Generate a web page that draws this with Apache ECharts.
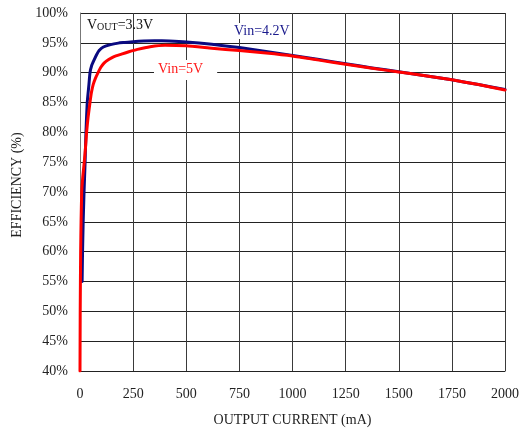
<!DOCTYPE html>
<html>
<head>
<meta charset="utf-8">
<script src="https://cdn.jsdelivr.net/npm/echarts@6/dist/echarts.min.js"></script>
<style>
  html, body { margin: 0; padding: 0; background: #fff; }
  #chart { width: 522px; height: 432px; }
</style>
</head>
<body>
<div id="chart"></div>
<script>
// Efficiency vs output current, VOUT = 3.3V
const xTicks = [0, 250, 500, 750, 1000, 1250, 1500, 1750, 2000];
const yTicks = [40, 45, 50, 55, 60, 65, 70, 75, 80, 85, 90, 95, 100];

// Vin = 4.2V
const vin42Current = [10, 12, 15, 19, 24, 28, 34, 42, 47, 55, 66, 78, 90, 110, 144, 180, 207, 250, 300, 350, 420, 500, 620, 750, 875, 1000, 1125, 1250, 1375, 1500, 1625, 1750, 1875, 2000];
const vin42Eff = [55, 60, 65, 70, 75, 80, 85, 88, 90, 91.2, 92.1, 93.0, 93.7, 94.3, 94.7, 94.95, 95.05, 95.2, 95.3, 95.35, 95.3, 95.15, 94.75, 94.2, 93.55, 92.9, 92.2, 91.5, 90.8, 90.15, 89.5, 88.8, 88.0, 87.2];

// Vin = 5V
const vin5Current = [0, 1, 3, 5, 8, 13, 20, 26, 31, 38, 47, 54, 62, 72, 85, 98, 113, 135, 160, 195, 230, 270, 330, 400, 500, 620, 750, 875, 1000, 1125, 1250, 1375, 1500, 1625, 1750, 1875, 2000];
const vin5Eff = [40, 50, 60, 65, 70, 72.5, 75, 77.5, 80, 82.5, 85, 86.7, 88, 89, 90, 90.9, 91.6, 92.2, 92.7, 93.1, 93.5, 93.9, 94.35, 94.6, 94.5, 94.1, 93.7, 93.3, 92.8, 92.1, 91.4, 90.75, 90.1, 89.5, 88.8, 88.0, 87.1];

const pairs = (xs, ys) => xs.map((x, i) => [x, ys[i]]);
const FONT = '"Liberation Serif", "DejaVu Serif", serif';

const chart = echarts.init(document.getElementById('chart'), null, { renderer: 'canvas' });
chart.setOption({
  animation: false,
  backgroundColor: '#fff',
  grid: { left: 80, top: 13, right: 16, bottom: 60, containLabel: false },
  xAxis: {
    type: 'value',
    min: xTicks[0], max: xTicks[xTicks.length - 1], interval: 250,
    name: 'OUTPUT CURRENT (mA)',
    nameLocation: 'middle', nameGap: 42,
    nameTextStyle: { fontFamily: FONT, fontSize: 14, color: '#222' },
    axisLine: { show: true, lineStyle: { color: '#222', width: 1 } },
    axisTick: { show: false },
    axisLabel: { fontFamily: FONT, fontSize: 14, color: '#222', margin: 16, formatter: v => String(v) },
    splitLine: { show: true, lineStyle: { color: '#3a3a3a', width: 1 } }
  },
  yAxis: {
    type: 'value',
    min: yTicks[0], max: yTicks[yTicks.length - 1], interval: 5,
    name: 'EFFICIENCY (%)',
    nameLocation: 'middle', nameGap: 56, nameRotate: 90,
    nameTextStyle: { fontFamily: FONT, fontSize: 14, color: '#222', padding: [0, 0, 0, 14] },
    axisLine: { show: true, lineStyle: { color: '#777', width: 1 } },
    axisTick: { show: false },
    axisLabel: { fontFamily: FONT, fontSize: 14, color: '#222', margin: 12, formatter: v => v + '%' },
    splitLine: { show: true, lineStyle: { color: '#222', width: 1 } }
  },
  series: [
    {
      name: 'Vin=4.2V', type: 'line', data: pairs(vin42Current, vin42Eff),
      showSymbol: false, smooth: 0.15,
      lineStyle: { color: '#0a0a80', width: 3, join: 'round', cap: 'round' }, z: 3
    },
    {
      name: 'Vin=5V', type: 'line', data: pairs(vin5Current, vin5Eff),
      showSymbol: false, smooth: 0.15,
      lineStyle: { color: '#ff0000', width: 3, join: 'round', cap: 'round' }, z: 4
    }
  ],
  graphic: [
    {
      type: 'text', left: 87, top: 18, z: 10,
      style: {
        rich: {
          v: { fontFamily: FONT, fontSize: 14, fill: '#111' },
          sub: { fontFamily: FONT, fontSize: 10, fill: '#111', verticalAlign: 'bottom', padding: [5, 0, 0, 0] }
        },
        text: '{v|V}{sub|OUT}{v|=3.3V}'
      }
    },
    {
      type: 'text', left: 232, top: 23, z: 10,
      style: {
        text: 'Vin=4.2V', fontFamily: FONT, fontSize: 14, fill: '#1a1a8c',
        backgroundColor: '#fff', padding: [1, 2, 1, 2]
      }
    },
    {
      type: 'text', left: 154, top: 60, z: 10,
      style: {
        text: 'Vin=5V', fontFamily: FONT, fontSize: 14, fill: '#ff1a1a',
        backgroundColor: '#fff', padding: [2, 14, 4, 4]
      }
    }
  ]
});
</script>
</body>
</html>
